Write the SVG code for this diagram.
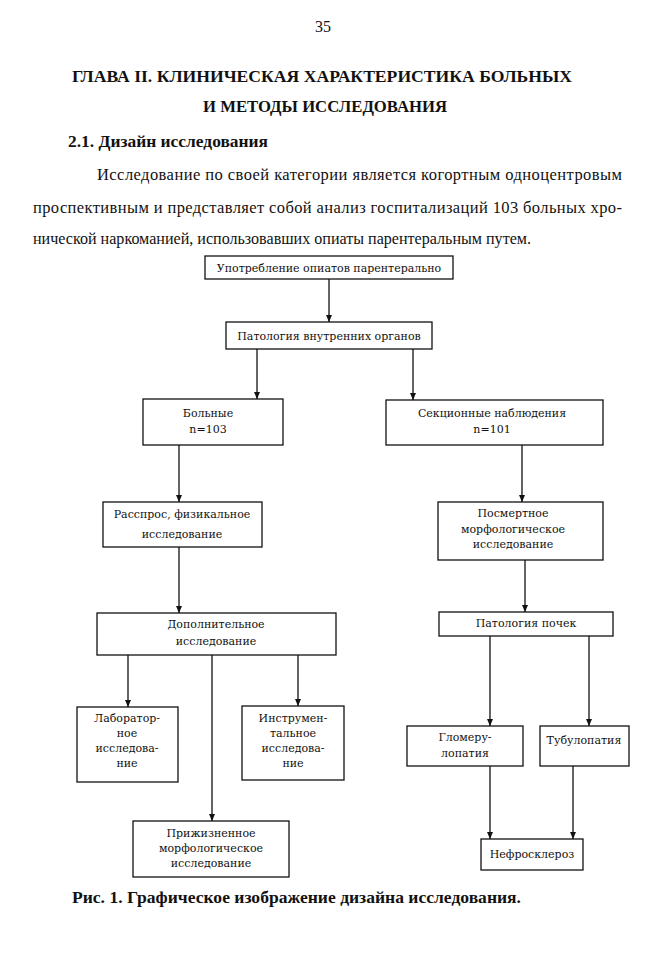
<svg xmlns="http://www.w3.org/2000/svg" width="662" height="960" viewBox="0 0 662 960">
<style>
.pg{font-family:"Liberation Serif","Times New Roman",serif;fill:#111}
.b{font-weight:bold}
.box{fill:#fff;stroke:#111;stroke-width:1.3}
.lbl{font-family:"DejaVu Serif","Liberation Serif",serif;font-size:11px;fill:#111;text-anchor:middle}
.con{stroke:#111;stroke-width:1.3;fill:none;marker-end:url(#ah)}
</style>
<defs>
<marker id="ah" viewBox="0 0 7 6" refX="7" refY="3" markerWidth="7" markerHeight="6" markerUnits="userSpaceOnUse" orient="auto">
<path d="M0,0 L7,3 L0,6 Z" fill="#111"/>
</marker>
</defs>
<rect width="662" height="960" fill="#fff"/>
<g id="page-text">
<text class="pg" x="323" y="32" font-size="16" text-anchor="middle">35</text>
<text class="pg b" x="72" y="82" font-size="17" textLength="500" lengthAdjust="spacingAndGlyphs">ГЛАВА II. КЛИНИЧЕСКАЯ ХАРАКТЕРИСТИКА БОЛЬНЫХ</text>
<text class="pg b" x="203" y="112" font-size="17" textLength="244" lengthAdjust="spacingAndGlyphs">И МЕТОДЫ ИССЛЕДОВАНИЯ</text>
<text class="pg b" x="68" y="147" font-size="16" textLength="200" lengthAdjust="spacingAndGlyphs">2.1. Дизайн исследования</text>
<text class="pg" x="97" y="180" font-size="16.5" textLength="525" lengthAdjust="spacing">Исследование по своей категории является когортным одноцентровым</text>
<text class="pg" x="33" y="213" font-size="16.5" textLength="589" lengthAdjust="spacing">проспективным и представляет собой анализ госпитализаций 103 больных хро-</text>
<text class="pg" x="33" y="244" font-size="16.5" textLength="498" lengthAdjust="spacingAndGlyphs">нической наркоманией, использовавших опиаты парентеральным путем.</text>
<text class="pg b" x="72" y="903" font-size="16" textLength="449" lengthAdjust="spacingAndGlyphs">Рис. 1. Графическое изображение дизайна исследования.</text>
</g>
<g id="connectors">
<line class="con" x1="329" y1="279" x2="329" y2="322"/>
<line class="con" x1="257" y1="349" x2="257" y2="399"/>
<line class="con" x1="413" y1="349" x2="413" y2="400"/>
<line class="con" x1="179" y1="445" x2="179" y2="502"/>
<line class="con" x1="179" y1="547" x2="179" y2="613"/>
<line class="con" x1="522" y1="445" x2="522" y2="502"/>
<line class="con" x1="525" y1="560" x2="525" y2="612"/>
<line class="con" x1="128" y1="655" x2="128" y2="707"/>
<line class="con" x1="298" y1="655" x2="298" y2="706"/>
<line class="con" x1="212" y1="655" x2="212" y2="821"/>
<line class="con" x1="490" y1="636" x2="490" y2="726"/>
<line class="con" x1="589" y1="636" x2="589" y2="726"/>
<line class="con" x1="490" y1="766" x2="490" y2="839"/>
<line class="con" x1="573" y1="766" x2="573" y2="839"/>
</g>
<g id="n-opiates">
<rect class="box" x="205" y="256" width="248" height="23"/>
<text class="lbl" x="329" y="272">Употребление опиатов парентерально</text>
</g>
<g id="n-pathology">
<rect class="box" x="226" y="322" width="206" height="27"/>
<text class="lbl" x="329" y="340">Патология внутренних органов</text>
</g>
<g id="n-patients">
<rect class="box" x="143" y="399" width="140" height="46"/>
<text class="lbl" x="208" y="417">Больные</text>
<text class="lbl" x="208" y="433">n=103</text>
</g>
<g id="n-autopsy">
<rect class="box" x="386" y="400" width="217" height="45"/>
<text class="lbl" x="492" y="417">Секционные наблюдения</text>
<text class="lbl" x="492" y="433">n=101</text>
</g>
<g id="n-exam">
<rect class="box" x="103" y="502" width="159" height="45"/>
<text class="lbl" x="182" y="518">Расспрос, физикальное</text>
<text class="lbl" x="182" y="538">исследование</text>
</g>
<g id="n-postmortem">
<rect class="box" x="438" y="502" width="165" height="58"/>
<text class="lbl" x="513" y="517">Посмертное</text>
<text class="lbl" x="513" y="533">морфологическое</text>
<text class="lbl" x="513" y="548">исследование</text>
</g>
<g id="n-additional">
<rect class="box" x="97" y="613" width="239" height="42"/>
<text class="lbl" x="216" y="628">Дополнительное</text>
<text class="lbl" x="216" y="645">исследование</text>
</g>
<g id="n-kidney">
<rect class="box" x="439" y="612" width="174" height="24"/>
<text class="lbl" x="526" y="627">Патология почек</text>
</g>
<g id="n-lab">
<rect class="box" x="77" y="707" width="101" height="75"/>
<text class="lbl" x="127" y="722">Лаборатор-</text>
<text class="lbl" x="127" y="737">ное</text>
<text class="lbl" x="127" y="752">исследова-</text>
<text class="lbl" x="127" y="767">ние</text>
</g>
<g id="n-instr">
<rect class="box" x="242" y="706" width="102" height="74"/>
<text class="lbl" x="293" y="722">Инструмен-</text>
<text class="lbl" x="293" y="737">тальное</text>
<text class="lbl" x="293" y="752">исследова-</text>
<text class="lbl" x="293" y="767">ние</text>
</g>
<g id="n-lifetime">
<rect class="box" x="133" y="821" width="156" height="56"/>
<text class="lbl" x="211" y="837">Прижизненное</text>
<text class="lbl" x="211" y="852">морфологическое</text>
<text class="lbl" x="211" y="867">исследование</text>
</g>
<g id="n-glomerulo">
<rect class="box" x="407" y="726" width="116" height="40"/>
<text class="lbl" x="465" y="741">Гломеру-</text>
<text class="lbl" x="465" y="757">лопатия</text>
</g>
<g id="n-tubulo">
<rect class="box" x="540" y="726" width="89" height="40"/>
<text class="lbl" x="584" y="744">Тубулопатия</text>
</g>
<g id="n-nephro">
<rect class="box" x="481" y="839" width="102" height="31"/>
<text class="lbl" x="532" y="858">Нефросклероз</text>
</g>
</svg>
